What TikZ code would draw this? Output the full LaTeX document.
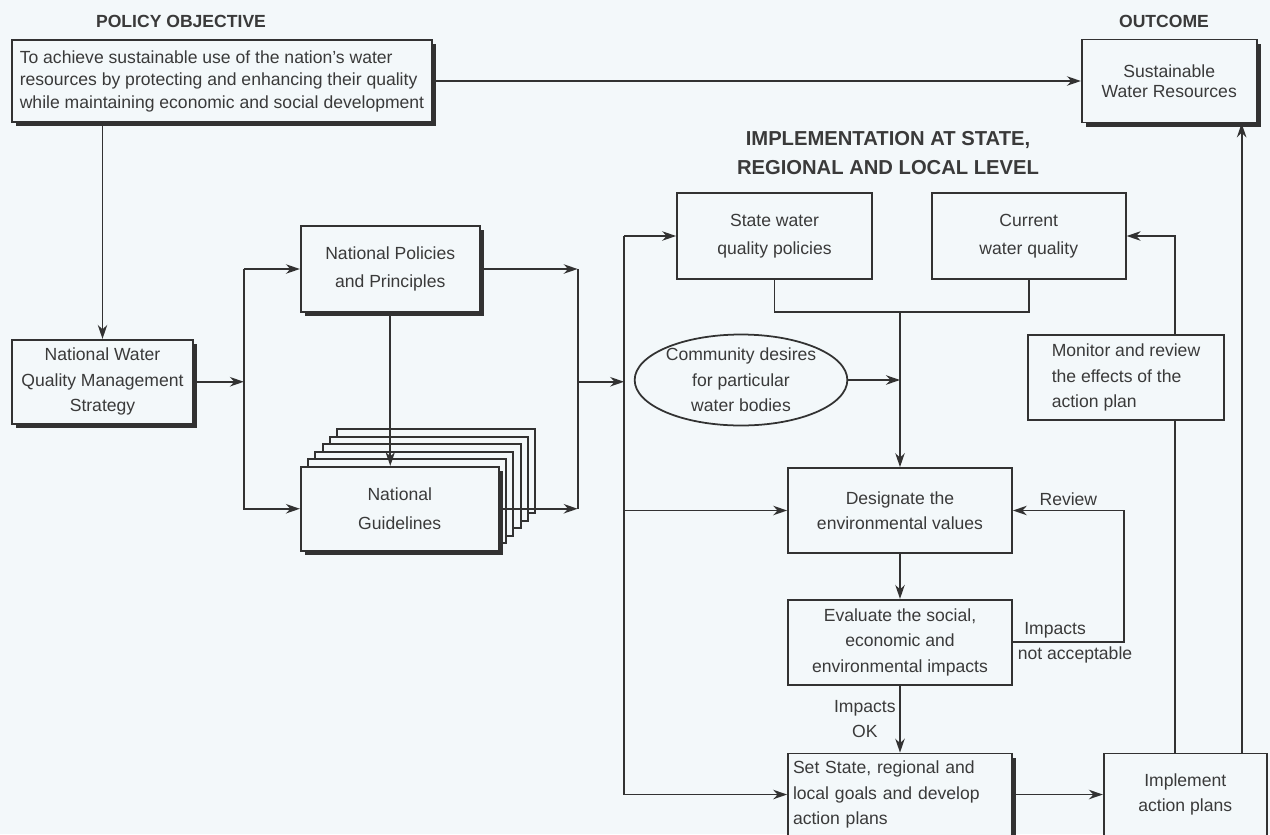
\documentclass[tikz,border=0pt]{standalone}
\usepackage{fontspec}
\setmainfont{Liberation Sans}
\usetikzlibrary{positioning,arrows.meta,shapes.geometric,shadows}
\definecolor{bgc}{RGB}{243,248,250}
\definecolor{linec}{RGB}{50,50,50}
\definecolor{textc}{RGB}{58,58,58}

\begin{document}
\begin{tikzpicture}[
    font=\fontsize{10}{14.5}\selectfont, text=textc,
    box/.style={draw=linec, line width=1pt, fill=bgc, align=center, inner sep=2pt},
    shadowbox/.style={box, drop shadow={shadow xshift=0.08cm, shadow yshift=-0.08cm, fill=linec, opacity=1}},
    pagestack/.style={box,
        copy shadow={shadow xshift=0.73cm, shadow yshift=0.75cm, fill=bgc, draw=linec},
        copy shadow={shadow xshift=0.584cm, shadow yshift=0.6cm, fill=bgc, draw=linec},
        copy shadow={shadow xshift=0.438cm, shadow yshift=0.45cm, fill=bgc, draw=linec},
        copy shadow={shadow xshift=0.292cm, shadow yshift=0.3cm, fill=bgc, draw=linec},
        copy shadow={shadow xshift=0.146cm, shadow yshift=0.15cm, fill=bgc, draw=linec},
        drop shadow={shadow xshift=0.08cm, shadow yshift=-0.08cm, fill=linec, opacity=1}},
    heading/.style={font=\bfseries\fontsize{10}{12}\selectfont},
    flow/.style={draw=linec, line width=1pt, -{Stealth[length=2.8mm, width=1.9mm]}},
    wire/.style={draw=linec, line width=1pt},
    lbl/.style={inner sep=2pt}
]
    \fill[bgc] (0,0) rectangle (25.4,-16.68);
    \useasboundingbox (0,0) rectangle (25.4,-16.68);

    \node[heading] (hpol) at (3.62,-0.42) {POLICY OBJECTIVE};
    \node[heading] (hout) at (23.28,-0.42) {OUTCOME};
    \node[heading, font=\bfseries\fontsize{11.5}{17}\selectfont, align=center] (himp) at (17.76,-3.06)
        {IMPLEMENTATION AT STATE,\\REGIONAL AND LOCAL LEVEL};

    \node[shadowbox, align=left, font=\fontsize{10}{12.8}\selectfont, minimum width=8.4cm, minimum height=1.64cm] (pol) at (4.44,-1.62)
        {To achieve sustainable use of the nation's water\\resources by protecting and enhancing their quality\\while maintaining economic and social development};
    \node[shadowbox, font=\fontsize{10}{11.5}\selectfont, minimum width=3.5cm, minimum height=1.66cm, right=12.96cm of pol] (out)
        {Sustainable\\Water Resources};
    \node[shadowbox, minimum width=3.62cm, minimum height=1.68cm, below=4.32cm of pol.south west, anchor=north west] (nwq)
        {National Water\\Quality Management\\Strategy};
    \node[shadowbox, font=\fontsize{10}{16}\selectfont, minimum width=3.58cm, minimum height=1.72cm, above right=0.52cm and 2.12cm of nwq] (npp)
        {National Policies\\and Principles};
    \node[pagestack, font=\fontsize{10}{16}\selectfont, minimum width=3.96cm, minimum height=1.68cm, below=3.06cm of npp.south west, anchor=north west] (gdl)
        {National\\Guidelines};

    \node[box, font=\fontsize{10}{16}\selectfont, minimum width=3.9cm, minimum height=1.72cm] (state) at (15.49,-4.72)
        {State water\\quality policies};
    \node[box, font=\fontsize{10}{16}\selectfont, minimum width=3.88cm, minimum height=1.72cm, right=1.16cm of state] (cur)
        {Current\\water quality};
    \node[draw=linec, line width=1pt, ellipse, align=center, inner sep=0pt, minimum width=3.96cm, minimum height=1.82cm] (comm) at (14.82,-7.6)
        {Community desires\\for particular\\water bodies};
    \node[box, align=left, minimum width=3.92cm, minimum height=1.7cm] (mon) at (22.52,-7.55)
        {Monitor and review\\the effects of the\\action plan};
    \node[box, minimum width=4.48cm, minimum height=1.7cm] (des) at (18.0,-10.21)
        {Designate the\\environmental values};
    \node[box, minimum width=4.48cm, minimum height=1.7cm, below=0.9cm of des] (eva)
        {Evaluate the social,\\economic and\\environmental impacts};
    \node[shadowbox, align=left, text width=4.28cm, inner xsep=0.1cm, minimum height=1.64cm, below=1.34cm of eva] (set)
        {Set State, regional and\\local goals and develop\\action plans};
    \node[box, minimum width=3.26cm, minimum height=1.64cm, right=1.8cm of set] (imp)
        {Implement\\action plans};

    \coordinate[left=1.12cm of npp] (jl);
    \coordinate[right=1.94cm of npp] (jr);
    \coordinate[left=1.04cm of state] (jm);
    \coordinate[below=0.64cm of state] (jb);
    \coordinate[right=0.96cm of cur] (jc);
    \coordinate[left=0.32cm of out.south east] (jo);
    \coordinate[right=2.22cm of eva] (jv);

    \draw[flow] (pol) -- (out);
    \draw[flow] (pol.south -| nwq.north) -- (nwq);
    \draw[flow] (nwq) -- (nwq -| jl);
    \draw[flow] (jl) -- (npp);
    \draw[flow] (jl) |- (gdl);
    \draw[flow] (npp) -- (npp |- gdl.north);
    \draw[flow] (npp) -- (jr);
    \draw[wire] (jr) -- (gdl -| jr);
    \draw[flow] (gdl) -- (gdl -| jr);
    \draw[flow] (nwq -| jr) -- (nwq -| jm);
    \draw[wire] (jm) -- (jm |- set);
    \draw[flow] (jm) -- (state);
    \draw[flow] (jm |- des) -- (des);
    \draw[flow] (jm |- set) -- (set);
    \draw[wire] (state) -- (jb) -| (cur);
    \draw[flow] (jb -| des) -- (des);
    \draw[flow] (comm) -- (comm -| des);
    \draw[flow] (jc |- mon.north) |- (cur);
    \draw[wire] (jc |- imp.north) -- (jc |- mon.south);
    \draw[flow] (jo |- imp.north) -- (jo);
    \draw[flow] (set) -- (imp);
    \draw[flow] (des) -- (eva);
    \draw[flow] (eva) -- node[lbl, left, align=center] {Impacts\\OK} (set);
    \draw[flow] (eva) -- node[lbl, pos=0.38, above] {Impacts} node[lbl, pos=0.56, below] {not acceptable} (jv)
        |- node[lbl, pos=0.75, above] {Review} (des);
\end{tikzpicture}
\end{document}
